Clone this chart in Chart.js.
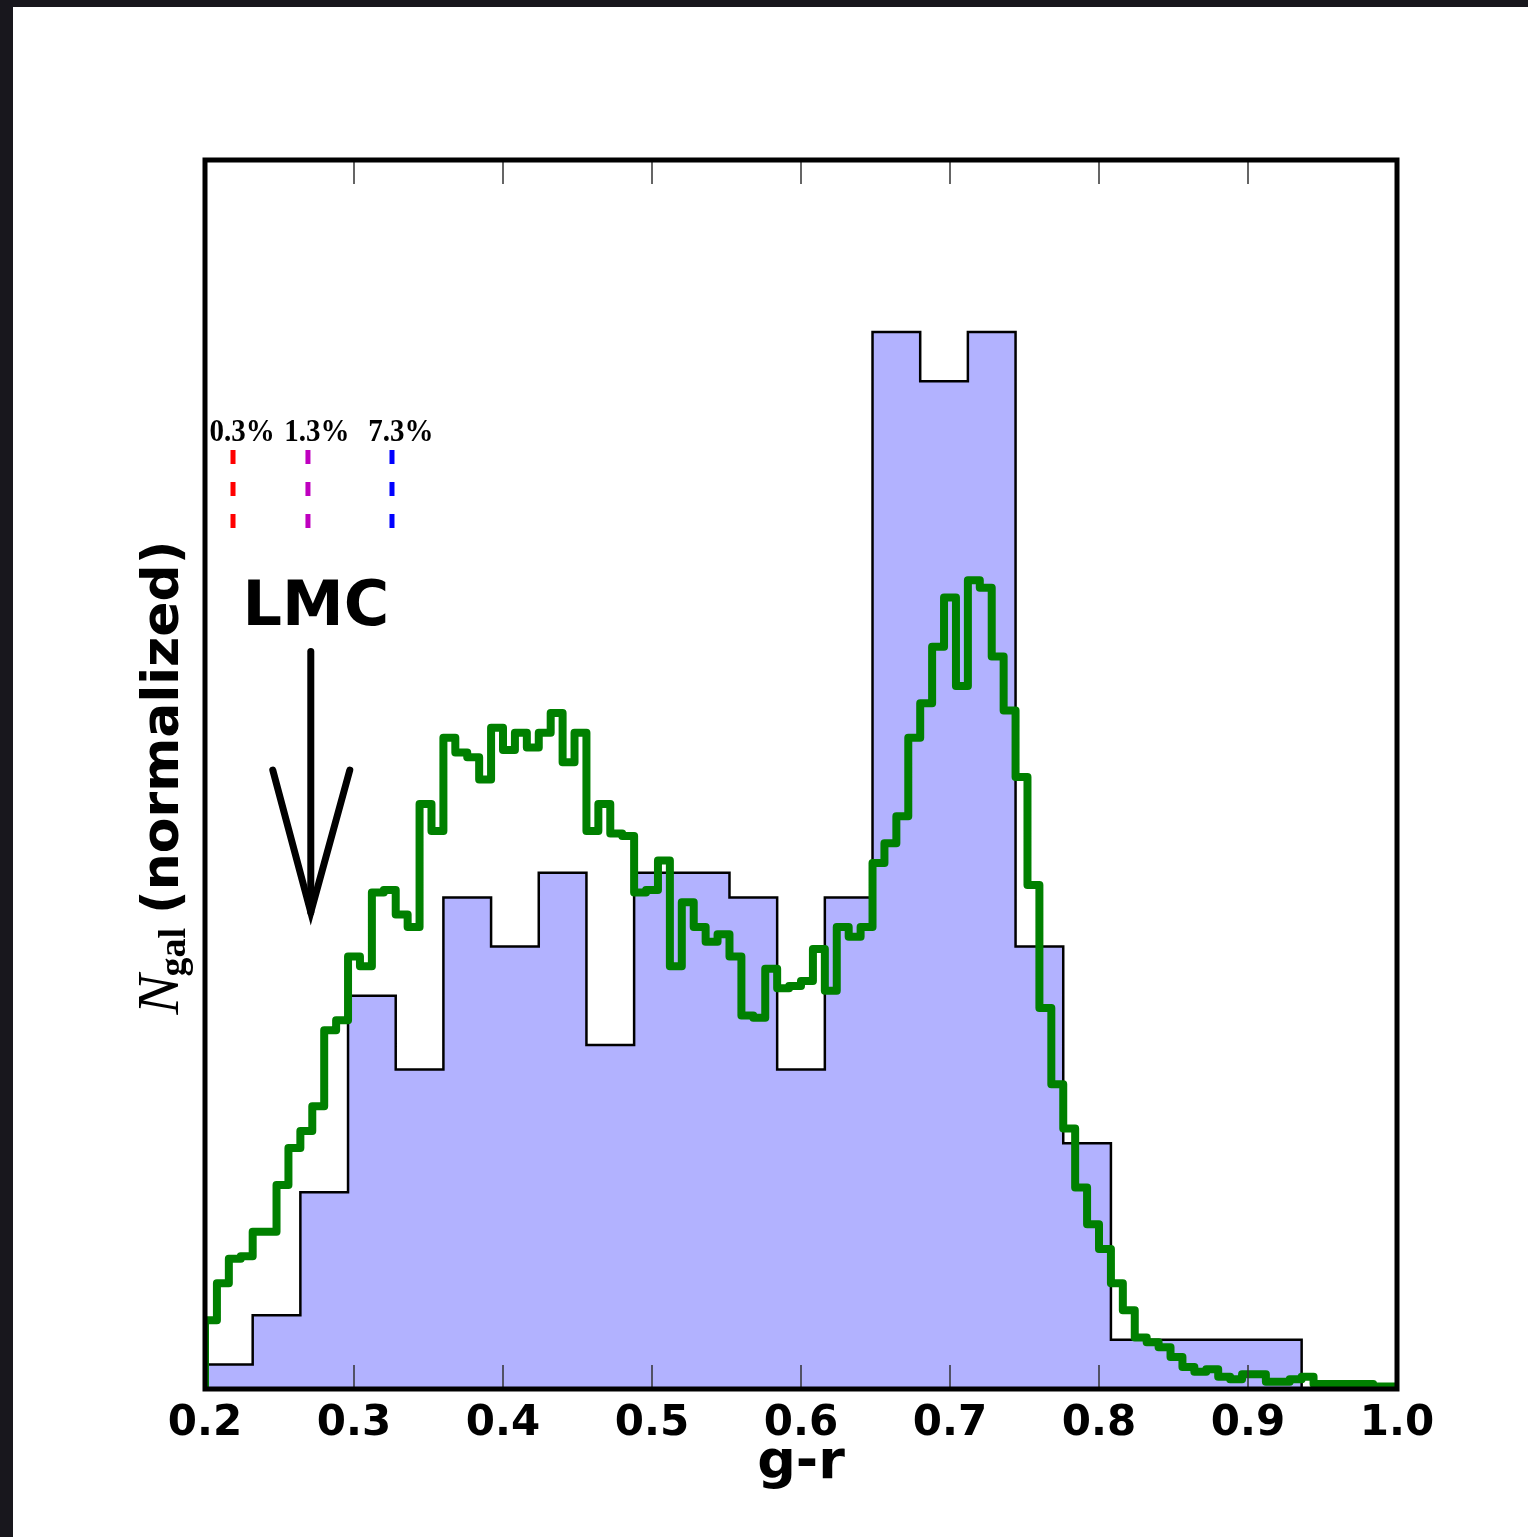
<!DOCTYPE html>
<html>
<head>
<meta charset="utf-8">
<title>g-r</title>
<script src="https://cdn.jsdelivr.net/npm/chart.js@4.4.1/dist/chart.umd.min.js"></script>
<style>
  html, body { margin: 0; padding: 0; background: #18171d; }
  #gr-hist { display: block; }
</style>
</head>
<body>
<canvas id="gr-hist" width="1528" height="1537"></canvas>
<script>
// g-r colour histograms
const xMin = 0.2;
const xMax = 1.0;
const xTickLabels = ['0.2', '0.3', '0.4', '0.5', '0.6', '0.7', '0.8', '0.9', '1.0'];

// coarse sample (filled), bins of 0.032
const coarseBinWidth = 0.032;
const coarseCounts = [0.1, 0.3, 0.8, 1.6, 1.3, 2.0, 1.8, 2.1, 1.4, 2.1,
                      2.1, 2.0, 1.3, 2.0, 4.3, 4.1, 4.3, 1.8, 1.0, 0.2,
                      0.2, 0.2, 0.2, 0.0, 0.0];

// fine sample (green step), bins of 0.008
const fineBinWidth = 0.008;
const fineCounts = [0.28, 0.43, 0.53, 0.54, 0.64, 0.64, 0.83, 0.98, 1.05, 1.15,
                    1.46, 1.50, 1.76, 1.72, 2.02, 2.03, 1.93, 1.88, 2.38, 2.27,
                    2.65, 2.59, 2.57, 2.48, 2.69, 2.60, 2.67, 2.61, 2.67, 2.75,
                    2.55, 2.67, 2.27, 2.38, 2.26, 2.25, 2.02, 2.03, 2.15, 1.72,
                    1.98, 1.88, 1.82, 1.85, 1.76, 1.52, 1.51, 1.71, 1.63, 1.64,
                    1.66, 1.79, 1.62, 1.88, 1.84, 1.88, 2.14, 2.22, 2.33, 2.65,
                    2.79, 3.02, 3.22, 2.86, 3.29, 3.26, 2.98, 2.76, 2.49, 2.05,
                    1.55, 1.24, 1.06, 0.82, 0.67, 0.57, 0.43, 0.32, 0.21, 0.19,
                    0.17, 0.13, 0.09, 0.07, 0.08, 0.05, 0.04, 0.06, 0.06, 0.03,
                    0.03, 0.04, 0.05, 0.02, 0.02, 0.02, 0.02, 0.02, 0.01, 0.01];

// LMC colour offsets
const offsetLabels = ['0.3%', '1.3%', '7.3%'];
const offsetX = [0.2188, 0.2691, 0.3255];
const offsetYRange = [3.82, 3.50];
const lmcX = 0.271;
const lmcArrowY = [3.0, 1.94];

const yMax = 5.0;

// turn bin heights into a closed step outline starting and ending on zero
function stepPoints(counts, start, width) {
  const pts = [{x: start, y: 0}];
  counts.forEach((v, i) => pts.push({x: start + i * width, y: v}));
  const end = start + counts.length * width;
  pts.push({x: end, y: counts[counts.length - 1]});
  pts.push({x: end, y: 0});
  return pts;
}

const offsetColors = ['#ff0000', '#bf00bf', '#0000ff'];
const offsetSets = offsetX.map((x, i) => ({
  type: 'line',
  data: [{x: x, y: offsetYRange[0]}, {x: x, y: offsetYRange[1]}],
  borderColor: offsetColors[i],
  borderWidth: 5,
  borderDash: [14, 18],
  borderCapStyle: 'butt',
  pointRadius: 0,
  order: 1
}));

const figureDecor = {
  id: 'figureDecor',
  beforeDraw(chart) {
    const c = chart.ctx;
    c.save();
    c.fillStyle = '#18171d';
    c.fillRect(0, 0, chart.width, chart.height);
    c.fillStyle = '#ffffff';
    c.fillRect(13, 7, chart.width - 13, chart.height - 7);
    c.restore();
  },
  afterDraw(chart) {
    const c = chart.ctx;
    const a = chart.chartArea;
    const sx = chart.scales.x, sy = chart.scales.y;
    c.save();

    // inward ticks, top and bottom
    c.strokeStyle = '#333';
    c.lineWidth = 1.5;
    sx.ticks.forEach(t => {
      const px = sx.getPixelForValue(t.value);
      if (px < a.left + 3 || px > a.right - 3) return;
      c.beginPath();
      c.moveTo(px, a.bottom); c.lineTo(px, a.bottom - 24);
      c.moveTo(px, a.top); c.lineTo(px, a.top + 24);
      c.stroke();
    });

    // frame
    c.strokeStyle = '#000';
    c.lineWidth = 5;
    c.strokeRect(a.left, a.top, a.right - a.left, a.bottom - a.top);

    // percentage labels above the dashed markers
    c.fillStyle = '#000';
    c.font = 'bold 29px "Liberation Serif"';
    c.textAlign = 'center';
    c.textBaseline = 'alphabetic';
    const labY = sy.getPixelForValue(offsetYRange[0]) - 9;
    offsetX.forEach((x, i) => {
      c.save();
      c.translate(sx.getPixelForValue(x) + 9, labY);
      c.scale(1, 1.12);
      c.fillText(offsetLabels[i], 0, 0);
      c.restore();
    });

    // LMC arrow
    const ax = sx.getPixelForValue(lmcX);
    const ay0 = sy.getPixelForValue(lmcArrowY[0]);
    const ay1 = sy.getPixelForValue(lmcArrowY[1]);
    c.lineWidth = 7;
    c.lineCap = 'round';
    c.beginPath();
    c.moveTo(ax, ay0); c.lineTo(ax, ay1);
    c.stroke();
    c.lineJoin = 'miter';
    c.beginPath();
    c.moveTo(ax - 38, ay1 - 142);
    c.lineTo(ax, ay1);
    c.lineTo(ax + 39, ay1 - 142);
    c.stroke();

    c.font = 'bold 62px "DejaVu Sans"';
    c.textAlign = 'center';
    c.fillText('LMC', ax + 5, ay0 - 27);

    // x title
    c.font = 'bold 54px "DejaVu Sans"';
    c.textAlign = 'center';
    c.fillText('g-r', (a.left + a.right) / 2, 1478);

    // y title: N_gal (normalized)
    const fN = 'italic 60px "Liberation Serif"';
    const fSub = 'bold 38px "Liberation Serif"';
    const fMain = 'bold 52px "DejaVu Sans"';
    c.font = fN; const wN = c.measureText('N').width;
    c.font = fSub; const wSub = c.measureText('gal').width;
    c.font = fMain; const wMain = c.measureText('(normalized)').width;
    const gap = 12;
    const total = wN + wSub + gap + wMain;
    const baseX = a.left - 27;
    c.translate(baseX, (a.top + a.bottom) / 2 + total / 2 + 3);
    c.rotate(-Math.PI / 2);
    c.textAlign = 'left';
    c.font = fN; c.fillText('N', 0, 0);
    c.font = fSub; c.fillText('gal', wN - 2, 7);
    c.font = fMain; c.fillText('(normalized)', wN + wSub + gap, 0);

    c.restore();
  }
};

new Chart(document.getElementById('gr-hist'), {
  type: 'line',
  data: {
    datasets: [
      {
        label: 'fine',
        data: stepPoints(fineCounts, xMin, fineBinWidth),
        stepped: 'before',
        borderColor: '#008000',
        borderWidth: 8,
        borderJoinStyle: 'round',
        fill: false,
        pointRadius: 0,
        order: 0
      },
      ...offsetSets,
      {
        label: 'coarse',
        data: stepPoints(coarseCounts, xMin, coarseBinWidth),
        stepped: 'before',
        borderColor: '#000000',
        borderWidth: 2.5,
        backgroundColor: '#b2b2ff',
        fill: 'origin',
        pointRadius: 0,
        order: 2
      }
    ]
  },
  options: {
    responsive: false,
    animation: false,
    devicePixelRatio: 1,
    layout: { padding: { left: 0, top: 160, right: 131, bottom: 0 } },
    plugins: { legend: { display: false }, tooltip: { enabled: false } },
    scales: {
      x: {
        type: 'linear',
        min: xMin,
        max: xMax,
        grid: { display: false },
        border: { display: false },
        ticks: {
          stepSize: 0.1,
          autoSkip: false,
          maxRotation: 0,
          padding: 2,
          color: '#000',
          font: { family: 'DejaVu Sans', weight: 'bold', size: 42 },
          callback: (v, i) => xTickLabels[i]
        },
        afterFit(s) { s.height = 148; }
      },
      y: {
        min: 0,
        max: yMax,
        grid: { display: false },
        border: { display: false },
        ticks: { display: false },
        afterFit(s) { s.width = 205; }
      }
    }
  },
  plugins: [figureDecor]
});
</script>
</body>
</html>
